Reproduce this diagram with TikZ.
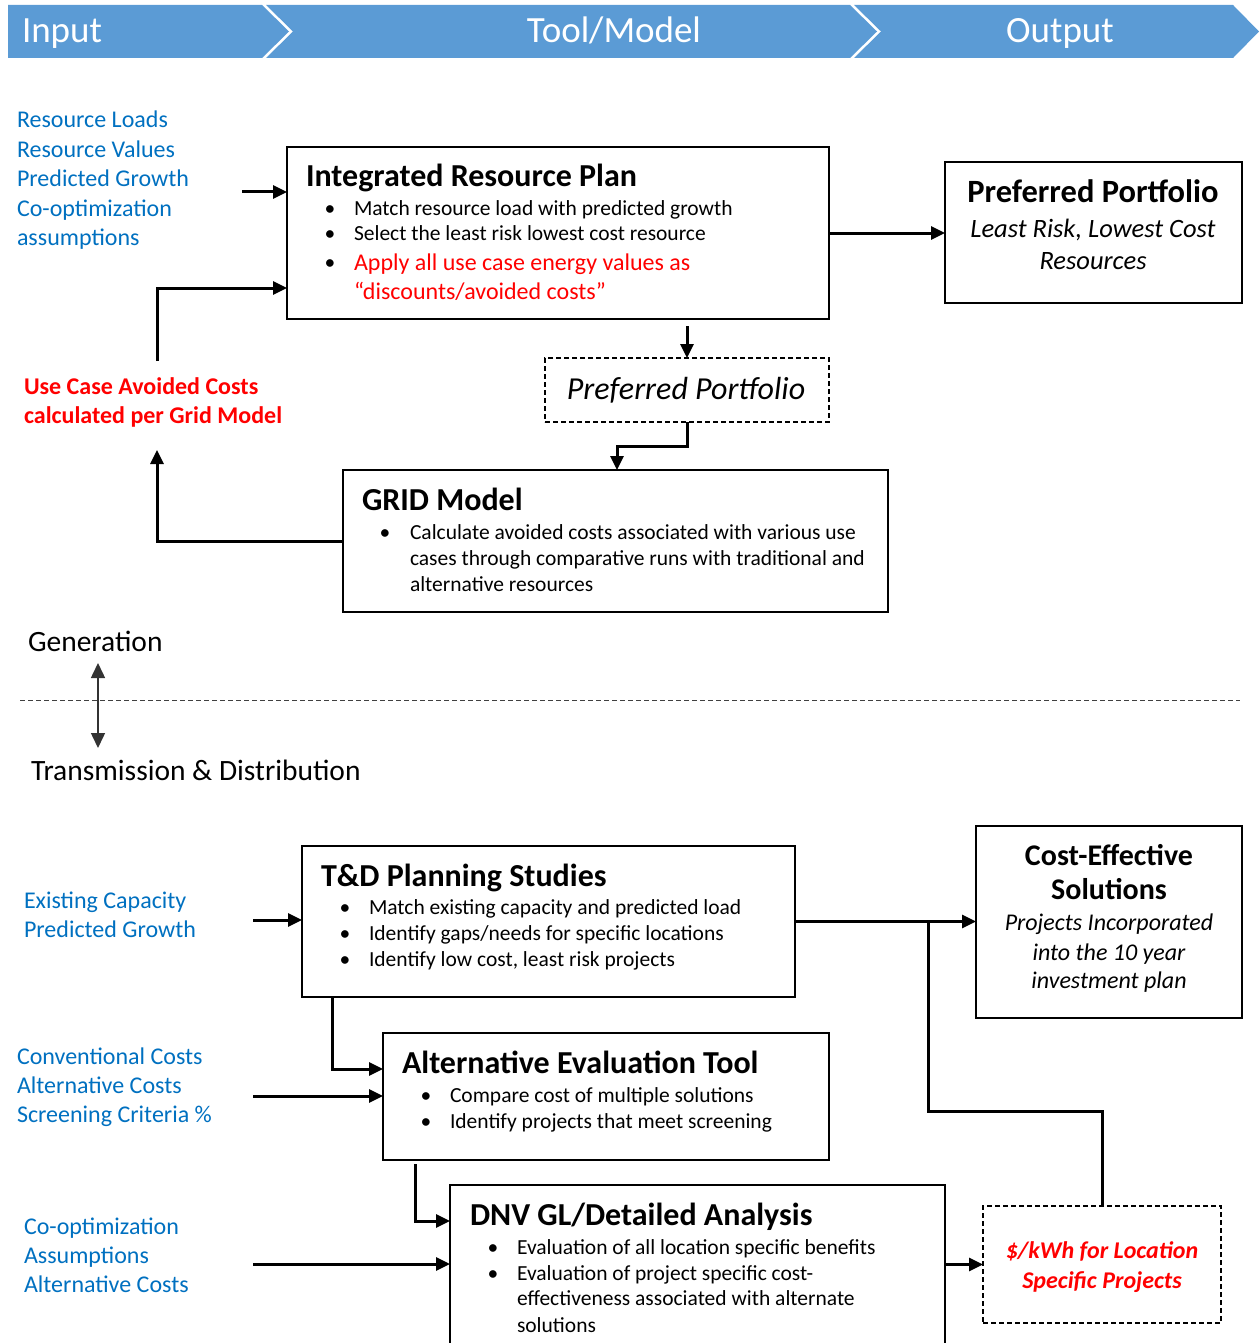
\documentclass[tikz,border=0pt]{standalone}
\usepackage{fontspec}
\setmainfont{Carlito}
\usetikzlibrary{arrows.meta}
\definecolor{hdr}{HTML}{5B9BD5}
\definecolor{inblue}{HTML}{0070C0}
\definecolor{redt}{HTML}{FF0000}
\begin{document}
\begin{tikzpicture}[x=1pt,y=-1pt,
  every node/.style={inner sep=0pt, outer sep=0pt},
  lbl/.style={anchor=base west},
  ctr/.style={anchor=base},
  inp/.style={lbl, text=inblue, font=\fontsize{24}{29}\selectfont},
  ttl/.style={lbl, font=\bfseries\fontsize{32}{38}\selectfont},
  blt/.style={lbl, font=\fontsize{21.5}{26}\selectfont},
  dot/.style={anchor=base, font=\fontsize{21.5}{26}\selectfont},
  hdrtxt/.style={anchor=base, text=white, font=\fontsize{37}{42}\selectfont},
  box/.style={draw, line width=2pt, rectangle},
  dbox/.style={draw, line width=1.6pt, dash pattern=on 5pt off 3pt, rectangle},
  conn/.style={line width=3pt, -{Triangle[length=14pt,width=13pt]}},
  plain/.style={line width=3pt},
]
\useasboundingbox (0,0) rectangle (1259,1343);
\clip (0,0) rectangle (1259,1343);
% header chevrons
\fill[hdr] (8,5) -- (262,5) -- (289,31.5) -- (262,58) -- (8,58) -- cycle;
\fill[hdr] (266,5) -- (850,5) -- (877,31.5) -- (850,58) -- (266,58) -- (293,31.5) -- cycle;
\fill[hdr] (854,5) -- (1233,5) -- (1259,31.5) -- (1233,58) -- (854,58) -- (881,31.5) -- cycle;
\node[hdrtxt, anchor=base west] (hIn) at (22,43) {Input};
\node[hdrtxt] (hTool) at (614,43) {Tool/Model};
\node[hdrtxt] (hOut) at (1060,43) {Output};

% ---------- Generation section ----------
\node[inp] (in1a) at (17,128) {Resource Loads};
\node[inp] (in1b) at (17,157.3) {Resource Values};
\node[inp] (in1c) at (17,186.6) {Predicted Growth};
\node[inp] (in1d) at (17,216) {Co-optimization};
\node[inp] (in1e) at (17,245) {assumptions};

\node[box, minimum width=542pt, minimum height=172pt] (irp) at (558,233) {};
\node[ttl] (irpT) at (306,187) {Integrated Resource Plan};
\node[dot] (irpD1) at (330,215.5) {\textbullet};
\node[blt] (irpL1) at (354,215.5) {Match resource load with predicted growth};
\node[dot] (irpD2) at (330,240.5) {\textbullet};
\node[blt] (irpL2) at (354,240.5) {Select the least risk lowest cost resource};
\node[dot] (irpD3) at (330,269.5) {\textbullet};
\node[blt, text=redt, font=\fontsize{24}{29}\selectfont] (irpL3) at (354,270) {Apply all use case energy values as};
\node[blt, text=redt, font=\fontsize{24}{29}\selectfont] (irpL4) at (354,299) {“discounts/avoided costs”};

\node[box, minimum width=297pt, minimum height=141pt] (pp) at (1093.5,232.5) {};
\node[ctr, font=\bfseries\fontsize{32.5}{38}\selectfont] (ppT) at (1093,203) {Preferred Portfolio};
\node[ctr, font=\itshape\fontsize{26.5}{31}\selectfont] (ppL1) at (1093,237) {Least Risk, Lowest Cost};
\node[ctr, font=\itshape\fontsize{26.5}{31}\selectfont] (ppL2) at (1093,269) {Resources};

\node[dbox, minimum width=284pt, minimum height=64pt] (ppd) at (687,390) {};
\node[ctr, font=\itshape\fontsize{32}{38}\selectfont] (ppdT) at (686,399) {Preferred Portfolio};

\node[box, minimum width=545pt, minimum height=142pt] (grid) at (615.5,541) {};
\node[ttl] (gridT) at (362,510) {GRID Model};
\node[dot] (gridD1) at (385,539) {\textbullet};
\node[blt] (gridL1) at (410,539) {Calculate avoided costs associated with various use};
\node[blt] (gridL2) at (410,565) {cases through comparative runs with traditional and};
\node[blt] (gridL3) at (410,591) {alternative resources};

\node[lbl, text=redt, font=\bfseries\fontsize{24}{29}\selectfont] (uc1) at (24,394) {Use Case Avoided Costs};
\node[lbl, text=redt, font=\bfseries\fontsize{24}{29}\selectfont] (uc2) at (24,423) {calculated per Grid Model};

% connectors (generation)
\coordinate (i1) at (242,192);
\draw[conn] (i1) -- (i1 -| irp.west);
\coordinate (fb1) at (157,361);
\coordinate (fbTop) at (157,288);
\draw[conn] (fb1) -- (fbTop) -- (fbTop -| irp.west);
\draw[conn] (irp.east) -- (irp.east -| pp.west);
\coordinate (d1) at (687,326);
\draw[conn] (d1) -- (d1 |- ppd.north);
\coordinate (g1) at (617,446);
\draw[conn] (ppd.south) |- (g1) -- (g1 |- grid.north);
\coordinate (ucA) at (157,450);
\draw[conn] (grid.west) -| (ucA);

% ---------- divider ----------
\node[lbl, font=\fontsize{29.5}{34}\selectfont] (gen) at (28,651) {Generation};
\node[lbl, font=\fontsize{29.5}{34}\selectfont] (tnd) at (31,780) {Transmission \& Distribution};
\coordinate (da) at (98,663);
\coordinate (db) at (98,748);
\draw[line width=1.5pt, black!80, {Triangle[length=15pt,width=14pt]}-{Triangle[length=15pt,width=14pt]}] (da) -- (db);
\coordinate (dl1) at (20,700);
\coordinate (dl2) at (1240,700);
\draw[line width=1pt, black!75, dash pattern=on 5pt off 3pt] (dl1) -- (dl2);

% ---------- T&D section ----------
\node[inp] (in2a) at (24,908) {Existing Capacity};
\node[inp] (in2b) at (24,937) {Predicted Growth};

\node[box, minimum width=493pt, minimum height=151pt] (td) at (548.5,921.5) {};
\node[ttl] (tdT) at (321,886) {T\&D Planning Studies};
\node[dot] (tdD1) at (345,914) {\textbullet};
\node[blt] (tdL1) at (369,914) {Match existing capacity and predicted load};
\node[dot] (tdD2) at (345,940) {\textbullet};
\node[blt] (tdL2) at (369,940) {Identify gaps/needs for specific locations};
\node[dot] (tdD3) at (345,966) {\textbullet};
\node[blt] (tdL3) at (369,966) {Identify low cost, least risk projects};

\node[box, minimum width=266pt, minimum height=192pt] (ce) at (1109,922) {};
\node[ctr, font=\bfseries\fontsize{30}{36}\selectfont] (ceT1) at (1109,865) {Cost-Effective};
\node[ctr, font=\bfseries\fontsize{30}{36}\selectfont] (ceT2) at (1109,899) {Solutions};
\node[ctr, font=\itshape\fontsize{24}{29}\selectfont] (ceL1) at (1109,930) {Projects Incorporated};
\node[ctr, font=\itshape\fontsize{24}{29}\selectfont] (ceL2) at (1109,960) {into the 10 year};
\node[ctr, font=\itshape\fontsize{24}{29}\selectfont] (ceL3) at (1109,988) {investment plan};

\node[inp] (in3a) at (17,1064) {Conventional Costs};
\node[inp] (in3b) at (17,1093) {Alternative Costs};
\node[inp] (in3c) at (17,1122) {Screening Criteria \%};

\node[box, minimum width=446pt, minimum height=127pt] (aet) at (606,1096.5) {};
\node[ttl] (aetT) at (402,1073) {Alternative Evaluation Tool};
\node[dot] (aetD1) at (426,1102) {\textbullet};
\node[blt] (aetL1) at (450,1102) {Compare cost of multiple solutions};
\node[dot] (aetD2) at (426,1128) {\textbullet};
\node[blt] (aetL2) at (450,1128) {Identify projects that meet screening};

\node[inp] (in4a) at (24,1234) {Co-optimization};
\node[inp] (in4b) at (24,1263) {Assumptions};
\node[inp] (in4c) at (24,1292) {Alternative Costs};

\node[box, minimum width=495pt, minimum height=185pt] (dnv) at (697.5,1277.5) {};
\node[ttl] (dnvT) at (470,1225) {DNV GL/Detailed Analysis};
\node[dot] (dnvD1) at (493,1254) {\textbullet};
\node[blt] (dnvL1) at (517,1254) {Evaluation of all location specific benefits};
\node[dot] (dnvD2) at (493,1280) {\textbullet};
\node[blt] (dnvL2) at (517,1280) {Evaluation of project specific cost-};
\node[blt] (dnvL3) at (517,1305) {effectiveness associated with alternate};
\node[blt] (dnvL4) at (517,1332) {solutions};

\node[dbox, minimum width=238pt, minimum height=117pt] (kwh) at (1102,1264.5) {};
\node[ctr, text=redt, font=\bfseries\itshape\fontsize{24}{29}\selectfont] (kwhL1) at (1102,1258) {\$/kWh for Location};
\node[ctr, text=redt, font=\bfseries\itshape\fontsize{24}{29}\selectfont] (kwhL2) at (1102,1288) {Specific Projects};

% connectors (T&D)
\coordinate (i2) at (253,920);
\draw[conn] (i2) -- (i2 -| td.west);
\draw[conn] (td.east) -- (td.east -| ce.west);
\coordinate (jn) at (928,921.5);
\coordinate (k1) at (1102,1111);
\draw[plain] (kwh.north) -- (k1) -- (k1 -| jn) -- (jn);
\coordinate (a1) at (332,1069);
\draw[conn] (td.south -| a1) -- (a1) -- (a1 -| aet.west);
\coordinate (i3) at (253,1096);
\draw[conn] (i3) -- (i3 -| aet.west);
\coordinate (b0) at (415,1164);
\coordinate (b1) at (415,1221);
\draw[conn] (b0) -- (b1) -- (b1 -| dnv.west);
\coordinate (i4) at (253,1264);
\draw[conn] (i4) -- (i4 -| dnv.west);
\draw[conn] (dnv.east |- kwh.west) -- (kwh.west);
\end{tikzpicture}
\end{document}
